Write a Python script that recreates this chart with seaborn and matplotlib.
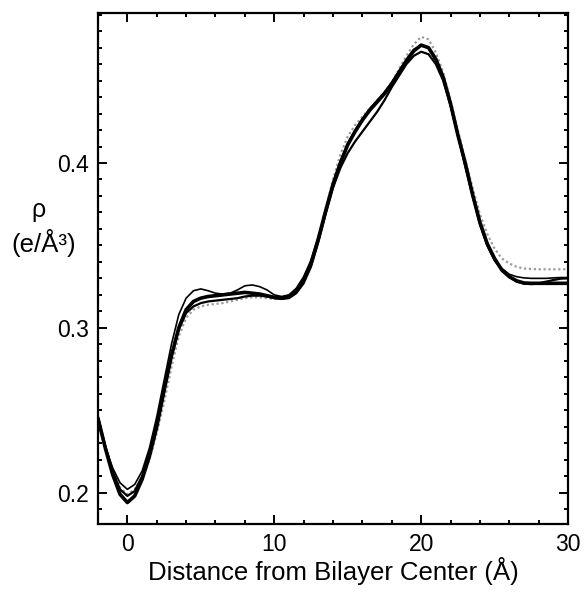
import numpy as np
import pandas as pd
import matplotlib
matplotlib.use("Agg")
import matplotlib.pyplot as plt
from matplotlib.ticker import MultipleLocator, FormatStrFormatter
import seaborn as sns

# distance grid (Angstrom), one reading every 0.5 A
distance = np.arange(-2.0, 30.5, 0.5)

# electron density profiles
rho_thick = [0.245, 0.227, 0.211, 0.199, 0.194, 0.198, 0.208, 0.222, 0.240, 0.262,
             0.283, 0.300, 0.311, 0.316, 0.318, 0.319, 0.3195, 0.320, 0.3205, 0.321,
             0.3215, 0.321, 0.3205, 0.3195, 0.3185, 0.318, 0.319, 0.322, 0.329, 0.339,
             0.354, 0.371, 0.387, 0.400, 0.411, 0.419, 0.426, 0.432, 0.437, 0.442,
             0.448, 0.455, 0.462, 0.468, 0.4715, 0.470, 0.463, 0.452, 0.436, 0.417,
             0.400, 0.381, 0.364, 0.351, 0.342, 0.335, 0.331, 0.3285, 0.3272, 0.327,
             0.327, 0.327, 0.327, 0.327, 0.327]

rho_thin = [0.243, 0.228, 0.215, 0.206, 0.202, 0.205, 0.213, 0.227, 0.246, 0.268,
            0.290, 0.308, 0.318, 0.3225, 0.3236, 0.3225, 0.321, 0.3205, 0.321, 0.323,
            0.3255, 0.326, 0.325, 0.323, 0.320, 0.319, 0.320, 0.324, 0.331, 0.341,
            0.355, 0.371, 0.388, 0.401, 0.412, 0.420, 0.427, 0.433, 0.438, 0.443,
            0.449, 0.456, 0.463, 0.469, 0.4712, 0.4695, 0.462, 0.451, 0.435, 0.416,
            0.399, 0.380, 0.363, 0.350, 0.341, 0.336, 0.3325, 0.3310, 0.3303, 0.330,
            0.330, 0.330, 0.3303, 0.3305, 0.3305]

rho_mid = [0.246, 0.228, 0.213, 0.202, 0.198, 0.201, 0.210, 0.224, 0.242, 0.263,
           0.283, 0.299, 0.309, 0.313, 0.315, 0.316, 0.3165, 0.317, 0.3175, 0.318,
           0.319, 0.3195, 0.3195, 0.319, 0.318, 0.3175, 0.318, 0.321, 0.327, 0.337,
           0.352, 0.369, 0.385, 0.397, 0.406, 0.413, 0.419, 0.425, 0.431, 0.438,
           0.446, 0.453, 0.460, 0.465, 0.4675, 0.466, 0.460, 0.450, 0.435, 0.417,
           0.398, 0.380, 0.363, 0.350, 0.341, 0.335, 0.331, 0.328, 0.3268, 0.3265,
           0.327, 0.328, 0.329, 0.3298, 0.330]

rho_dotted = [0.246, 0.228, 0.213, 0.203, 0.199, 0.202, 0.209, 0.220, 0.236, 0.255,
              0.276, 0.295, 0.306, 0.311, 0.313, 0.314, 0.3145, 0.315, 0.316, 0.317,
              0.318, 0.3185, 0.3185, 0.318, 0.3175, 0.3175, 0.319, 0.3225, 0.329, 0.339,
              0.354, 0.372, 0.390, 0.405, 0.416, 0.423, 0.428, 0.433, 0.438, 0.443,
              0.449, 0.457, 0.465, 0.472, 0.4765, 0.475, 0.467, 0.455, 0.438, 0.420,
              0.402, 0.385, 0.369, 0.357, 0.348, 0.342, 0.339, 0.337, 0.336, 0.3357,
              0.3355, 0.3355, 0.3355, 0.3355, 0.3355]

sns.set_style("ticks")
plt.rcParams['font.family'] = ['Liberation Sans', 'DejaVu Sans']
plt.rcParams['text.color'] = 'black'
plt.rcParams['axes.labelcolor'] = 'black'

fig = plt.figure(figsize=(5.85, 6.04), dpi=100, facecolor='white')
ax = fig.add_axes([0.1675, 0.1325, 0.8035, 0.846])

# gray dotted profile first so the solid ones sit on top
sns.lineplot(ax=ax, x=distance, y=rho_dotted, color='#9a9a9a', linewidth=1.6,
             linestyle=(0, (1, 1.2)))
sns.lineplot(ax=ax, x=distance, y=rho_mid, color='black', linewidth=1.6)
sns.lineplot(ax=ax, x=distance, y=rho_thin, color='black', linewidth=1.2)
sns.lineplot(ax=ax, x=distance, y=rho_thick, color='black', linewidth=2.6)

ax.set_xlim(-2, 30)
ax.set_ylim(0.181, 0.491)
ax.xaxis.set_major_locator(MultipleLocator(10))
ax.xaxis.set_minor_locator(MultipleLocator(2))
ax.yaxis.set_major_locator(MultipleLocator(0.1))
ax.yaxis.set_minor_locator(MultipleLocator(0.01))
ax.xaxis.set_major_formatter(FormatStrFormatter('%d'))
ax.yaxis.set_major_formatter(FormatStrFormatter('%.1f'))

ax.tick_params(which='both', direction='in', top=True, right=True,
               width=1.4, colors='black', labelsize=16.5)
ax.tick_params(which='major', length=6.5, pad=6.5)
ax.tick_params(which='minor', length=3.2)
for s in ax.spines.values():
    s.set_linewidth(1.6)
    s.set_color('black')

ax.set_xlabel("Distance from Bilayer Center (Å)", fontsize=18.5, labelpad=0.5)
ax.set_ylabel("")
fig.text(0.066, 0.652, "ρ", fontsize=18, ha='center', va='center')
fig.text(0.075, 0.597, "(e/Å³)", fontsize=18.5, ha='center', va='center')

plt.savefig("out.png", dpi=100, facecolor='white')
